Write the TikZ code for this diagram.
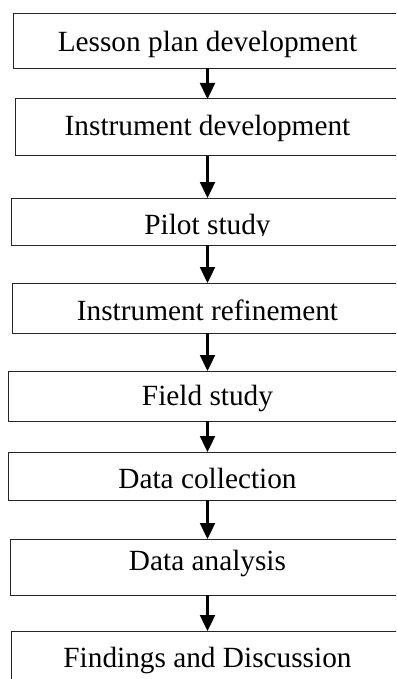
\documentclass[tikz,border=0pt]{standalone}
\usepackage{fontspec}
\setmainfont{Liberation Serif}
\usetikzlibrary{arrows.meta}
\begin{document}
\begin{tikzpicture}[x=1pt,y=-1pt,
  stepbox/.style={draw=black!85, line width=1pt, inner sep=0pt, outer sep=0pt, anchor=north},
  lbl/.style={anchor=base, inner sep=0pt, font=\fontsize{29.3}{32}\selectfont},
  flow/.style={line width=2.4pt, -{Triangle[length=16pt,width=15pt]}}]
\useasboundingbox (0,0) rectangle (396,679);
\clip (0,0) rectangle (396,679);
% boxes
\node[stepbox, minimum width=388.4pt, minimum height=54.8pt] (b1) at (207.5,13.5) {};
\node[stepbox, minimum width=383.6pt, minimum height=57pt]   (b2) at (207.5,99) {};
\node[stepbox, minimum width=393pt,   minimum height=47pt]   (b3) at (207.5,198) {};
\node[stepbox, minimum width=390.4pt, minimum height=50pt]   (b4) at (207.5,283) {};
\node[stepbox, minimum width=398.4pt, minimum height=50pt]   (b5) at (207.5,371) {};
\node[stepbox, minimum width=398.4pt, minimum height=48pt]   (b6) at (207.5,452) {};
\node[stepbox, minimum width=395pt,   minimum height=56pt]   (b7) at (207.5,539) {};
\node[stepbox, minimum width=391.6pt, minimum height=70pt]   (b8) at (207.5,631) {};
% labels
\node[lbl] (t1) at (207.5,51.7) {Lesson plan development};
\node[lbl] (t2) at (207.5,136) {Instrument development};
\begin{scope}
  \clip (0,0) rectangle (396,235.7);
  \node[lbl] (t3) at (207.5,234.3) {Pilot study};
\end{scope}
\node[lbl] (t4) at (207.5,320) {Instrument refinement};
\begin{scope}
  \clip (0,0) rectangle (396,411);
  \node[lbl] (t5) at (207.5,405.7) {Field study};
\end{scope}
\node[lbl] (t6) at (207.5,488.3) {Data collection};
\node[lbl] (t7) at (207.5,570) {Data analysis};
\node[lbl] (t8) at (207.5,667.7) {Findings and Discussion};
% arrows
\draw[flow] (b1.south) -- (b2.north);
\draw[flow] (b2.south) -- (b3.north);
\draw[flow] (b3.south) -- (b4.north);
\draw[flow] (b4.south) -- (b5.north);
\draw[flow] (b5.south) -- (b6.north);
\draw[flow] (b6.south) -- (b7.north);
\draw[flow] (b7.south) -- (b8.north);
\end{tikzpicture}
\end{document}
